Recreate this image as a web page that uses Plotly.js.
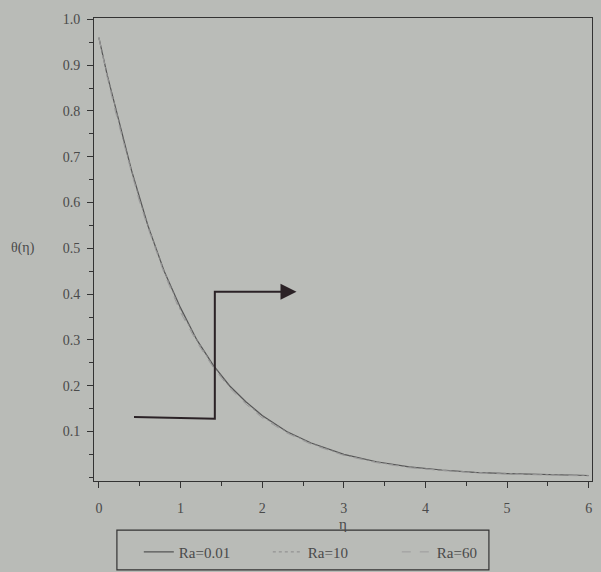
<!DOCTYPE html>
<html><head><meta charset="utf-8">
<script src="https://cdn.plot.ly/plotly-3.0.1.min.js"></script>
<style>html,body{margin:0;padding:0;background:#b9bbb7;}</style>
</head><body><div id="chart" style="width:601px;height:572px;"></div>
<script>
// eta grid
const eta = [0, 0.1, 0.2, 0.3, 0.4, 0.5, 0.6, 0.8, 1.0, 1.2, 1.4, 1.6, 1.8, 2.0, 2.3, 2.6, 3.0, 3.4, 3.8, 4.2, 4.6, 5.0, 5.4, 5.8, 6.0];
// theta(eta) for each Ra (curves almost coincide)
const thetaRa001 = [0.96, 0.88, 0.81, 0.74, 0.67, 0.61, 0.55, 0.45, 0.37, 0.30, 0.245, 0.20, 0.165, 0.135, 0.10, 0.075, 0.050, 0.034, 0.023, 0.016, 0.011, 0.008, 0.006, 0.005, 0.004];
const thetaRa10  = [0.96, 0.88, 0.81, 0.735, 0.67, 0.605, 0.55, 0.45, 0.365, 0.30, 0.243, 0.198, 0.163, 0.133, 0.099, 0.074, 0.049, 0.033, 0.022, 0.015, 0.011, 0.008, 0.006, 0.005, 0.004];
const thetaRa60  = [0.96, 0.875, 0.80, 0.73, 0.665, 0.60, 0.545, 0.445, 0.36, 0.295, 0.24, 0.195, 0.16, 0.13, 0.097, 0.072, 0.048, 0.032, 0.021, 0.015, 0.010, 0.007, 0.005, 0.004, 0.003];
const seriesNames = ["Ra=0.01", "Ra=10", "Ra=60"];
// increasing-Ra arrow path
const arrowEta = [0.43, 1.42, 1.42, 2.3];
const arrowTheta = [0.132, 0.128, 0.405, 0.405];
const xTicks = [0, 1, 2, 3, 4, 5, 6];
const yTicks = [0.1, 0.2, 0.3, 0.4, 0.5, 0.6, 0.7, 0.8, 0.9, 1.0];
const yTickText = ["0.1", "0.2", "0.3", "0.4", "0.5", "0.6", "0.7", "0.8", "0.9", "1.0"];

const serif = "Liberation Serif";
const traces = [
  {x: eta, y: thetaRa001, name: seriesNames[0], mode: "lines", line: {color: "#555555", width: 1.2}},
  {x: eta, y: thetaRa10, name: seriesNames[1], mode: "lines", line: {color: "#8a8a8a", width: 1, dash: "dot"}},
  {x: eta, y: thetaRa60, name: seriesNames[2], mode: "lines", line: {color: "#9c9c9c", width: 1, dash: "dash"}},
  {x: arrowEta, y: arrowTheta, mode: "lines", showlegend: false, hoverinfo: "skip",
   line: {color: "#2b2226", width: 2}}
];
const layout = {
  width: 601, height: 572,
  paper_bgcolor: "#b9bbb7", plot_bgcolor: "#babcb8",
  margin: {l: 94, r: 9, t: 18, b: 91, autoexpand: false},
  font: {family: serif, color: "#4a4a4a", size: 14},
  xaxis: {
    range: [-0.06, 6.04], tickvals: xTicks, ticks: "outside", ticklen: 6, tickwidth: 1,
    tickcolor: "#333", showline: true, linecolor: "#333", linewidth: 1, mirror: true,
    showgrid: false, zeroline: false, automargin: false, ticklabelstandoff: 8,
    minor: {dtick: 0.5, tick0: 0, ticks: "outside", ticklen: 4, tickcolor: "#333"},
    tickfont: {family: serif, size: 14, color: "#4a4a4a"},
    title: {text: "η", font: {family: serif, size: 15, color: "#4a4a4a"}, standoff: 0}
  },
  yaxis: {
    range: [-0.008, 1.003], tickvals: yTicks, ticktext: yTickText, ticks: "outside", ticklen: 6,
    tickwidth: 1, tickcolor: "#333", showline: true, linecolor: "#333", linewidth: 1, mirror: true,
    showgrid: false, zeroline: false, automargin: false, ticklabelstandoff: 4,
    minor: {dtick: 0.05, tick0: 0, ticks: "outside", ticklen: 4, tickcolor: "#333"},
    tickfont: {family: serif, size: 14, color: "#4a4a4a"}
  },
  legend: {
    orientation: "h", x: 0.09, xanchor: "left", y: -0.118, yanchor: "top",
    borderwidth: 0, bgcolor: "rgba(0,0,0,0)",
    entrywidth: 84, entrywidthmode: "pixels",
    font: {family: serif, size: 15, color: "#4a4a4a"}
  },
  shapes: [
    {type: "rect", xref: "paper", yref: "paper", x0: 0.046, x1: 0.793, y0: -0.106, y1: -0.192,
     line: {color: "#333", width: 1.2}, fillcolor: "rgba(0,0,0,0)"}
  ],
  annotations: [
    {xref: "paper", yref: "y", x: -0.17, y: 0.5, text: "θ(η)", showarrow: false,
     font: {family: serif, size: 14, color: "#4a4a4a"}},
    {x: arrowEta[3] + 0.12, y: arrowTheta[3], ax: arrowEta[3] - 0.05, ay: arrowTheta[3],
     axref: "x", ayref: "y", xref: "x", yref: "y", text: "", showarrow: true,
     arrowhead: 2, arrowsize: 1.6, arrowwidth: 2, arrowcolor: "#2b2226"}
  ],
  showlegend: true
};
Plotly.newPlot("chart", traces, layout, {displayModeBar: false, staticPlot: true});
</script></body></html>
